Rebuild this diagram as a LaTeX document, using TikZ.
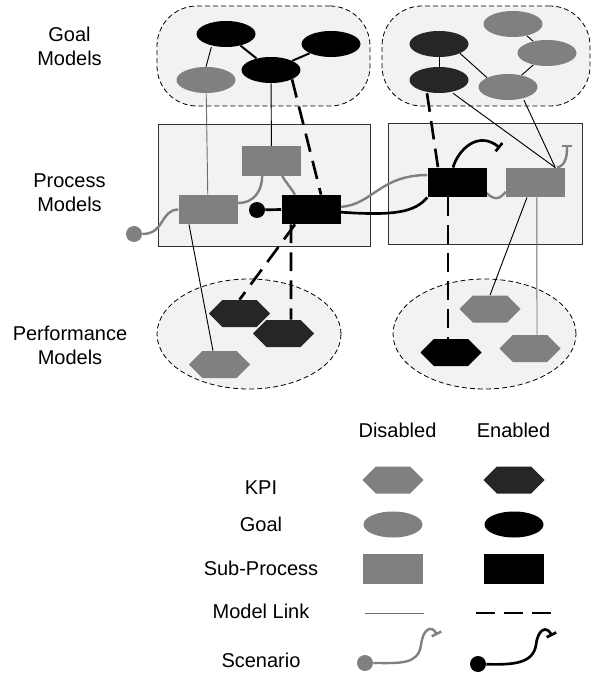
\documentclass[tikz,border=0pt]{standalone}
\usepackage{fontspec}
\setmainfont{Liberation Sans}
\usetikzlibrary{arrows.meta,shapes.geometric}
\pgfdeclarelayer{back}
\pgfdeclarelayer{mid}
\pgfsetlayers{back,mid,main}
\definecolor{grayn}{HTML}{808080}
\definecolor{darkn}{HTML}{262626}
\definecolor{bgc}{HTML}{F2F2F2}
\definecolor{lgray}{HTML}{6E6E6E}
\tikzset{
  lbl/.style={font=\fontsize{15}{18}\selectfont, inner sep=0pt, align=center},
  goalgrp/.style={rectangle, rounded corners=30pt, fill=bgc, draw=black, line width=0.6pt, dash pattern=on 3.75pt off 2.25pt},
  procgrp/.style={rectangle, fill=bgc, draw=black!80, line width=0.6pt},
  perfgrp/.style={ellipse, fill=bgc, draw=black, line width=0.6pt, dash pattern=on 3.75pt off 2.25pt},
  goalshape/.style={ellipse, minimum width=44.25pt, minimum height=19.5pt, inner sep=0pt, fill=#1},
  procshape/.style={rectangle, minimum width=44.25pt, minimum height=22pt, inner sep=0pt, fill=#1},
  kpishape/.style={rectangle, minimum width=45.75pt, minimum height=20.25pt, inner sep=0pt,
    path picture={\fill[#1] (path picture bounding box.west)
      -- ([xshift=10pt]path picture bounding box.north west)
      -- ([xshift=-10pt]path picture bounding box.north east)
      -- (path picture bounding box.east)
      -- ([xshift=-10pt]path picture bounding box.south east)
      -- ([xshift=10pt]path picture bounding box.south west) -- cycle;}},
  startdot/.style={circle, minimum size=12pt, inner sep=0pt, fill=#1},
  tlink/.style={draw=black, line width=0.7pt},
  glink/.style={draw=lgray, line width=0.7pt},
  elink/.style={draw=black, line width=1.5pt},
  dlink/.style={draw=black, line width=2pt, dash pattern=on 14pt off 7pt},
  scgray/.style={draw=grayn, line width=1.8pt},
  scblack/.style={draw=black, line width=2pt},
  endbar/.style={-{Bar[width=8pt]}},
}
\begin{document}
\begin{tikzpicture}[x=0.75pt,y=-0.75pt]
\useasboundingbox (0,0) rectangle (593,677);

% ---------- groups ----------
\begin{pgfonlayer}{back}
\node[goalgrp, minimum width=159.75pt, minimum height=75pt] (GL) at (263.5,56) {};
\node[goalgrp, minimum width=156pt, minimum height=75pt] (GR) at (486,56) {};
\node[procgrp, minimum width=159pt, minimum height=91.5pt] (PL) at (264,185) {};
\node[procgrp, minimum width=145.5pt, minimum height=90.75pt] (PR) at (485,183.5) {};
\node[perfgrp, minimum width=138pt, minimum height=82.5pt] (FL) at (249,334) {};
\node[perfgrp, minimum width=137.25pt, minimum height=82.5pt] (FR) at (484.5,334) {};
\end{pgfonlayer}

% ---------- goals ----------
\node[goalshape=black] (E1) at (226,34) {};
\node[goalshape=black] (E2) at (331,44) {};
\node[goalshape=black] (E3) at (271,70) {};
\node[goalshape=grayn] (E4) at (206,80) {};
\node[goalshape=darkn] (R1) at (439,44) {};
\node[goalshape=darkn] (R2) at (439,80) {};
\node[goalshape=grayn] (R3) at (513,24) {};
\node[goalshape=grayn] (R4) at (547,53) {};
\node[goalshape=grayn] (R5) at (508,87) {};

% ---------- processes ----------
\node[procshape=grayn] (P1) at (271.5,161) {};
\node[procshape=grayn] (P2) at (208,209.5) {};
\node[procshape=black] (P3) at (311,209.5) {};
\node[procshape=black] (Q1) at (457,182.5) {};
\node[procshape=grayn] (Q2) at (535.5,182.5) {};
\node[startdot=grayn] (gs) at (134,234) {};
\node[startdot=black] (bs) at (257,210) {};
\coordinate (gend) at (567,145);
\coordinate (bend) at (500,148);

% ---------- KPIs ----------
\node[kpishape=darkn] (H1) at (239.5,313.5) {};
\node[kpishape=darkn] (H2) at (283.5,333.5) {};
\node[kpishape=grayn] (H3) at (219.5,364.5) {};
\node[kpishape=grayn] (H4) at (490,309) {};
\node[kpishape=black] (H5) at (451,352.5) {};
\node[kpishape=grayn] (H6) at (530,348.5) {};

% ---------- links ----------
\begin{pgfonlayer}{mid}
\draw[tlink] ([xshift=-11pt]E1.south) -- (E4.north);
\draw[elink] (E1) -- (E3);
\draw[elink] (E3) -- (E2);
\draw[tlink] (R1) -- (R2);
\draw[tlink] (R1.south east) -- (R5.north west);
\draw[tlink] (R3) -- (R4);
\draw[tlink] (R4) -- (R5);

\draw[glink] (E4) -- (P2);
\draw[tlink] (E3) -- (P1);
\draw[dlink] (E3.south east) -- ([xshift=7.5pt]P3.north);
\draw[dlink] ([xshift=-9pt]R2.south) -- ([xshift=-14.25pt]Q1.north);
\draw[tlink] ([xshift=10.5pt]R2.south) -- ([xshift=-7.5pt]Q2.north east);
\draw[tlink] ([xshift=12pt]R5.south) -- ([xshift=-7.5pt]Q2.north east);

\draw[tlink] ([xshift=-14.25pt]P2.south) -- ([xshift=-4.9pt]H3.north);
\draw[dlink] ([xshift=-12pt]P3.south) -- (H1.north);
\draw[dlink] ([xshift=-15pt]P3.south) -- ([xshift=5.6pt]H2.north);
\draw[dlink] ([xshift=-6.75pt]Q1.south) -- ([xshift=-2.25pt]H5.north);
\draw[tlink] ([xshift=-6.4pt]Q2.south) -- (H4.north);
\draw[glink] ([xshift=1pt]Q2.south) -- ([xshift=5.25pt]H6.north);

% scenarios
\draw[scgray] (gs) .. controls (165,234) and (160,210) .. (P2.west);
\draw[scgray] ([yshift=4.9pt]P2.east) .. controls (255,203) and (262,190) .. ([xshift=-7pt]P1.south);
\draw[scgray] ([xshift=8pt]P1.south) .. controls (287,184) and (291,188) .. ([xshift=-12pt]P3.north);
\draw[scgray] ([yshift=2pt]P3.east) .. controls (372,205) and (380,175) .. ([yshift=5.6pt]Q1.west);
\draw[scgray] ([yshift=-8pt]Q1.east) .. controls (494,200) and (499,200) .. ([yshift=-7pt]Q2.west);
\draw[scgray,endbar] ([xshift=-6pt]Q2.north east) .. controls (566,165) and (567,156) .. (gend);
\draw[scblack] (bs) -- (P3.west);
\draw[scblack] ([yshift=-2pt]P3.east) .. controls (395,216) and (415,212) .. (Q1.south west);
\draw[scblack,endbar] ([xshift=-3pt]Q1.north) .. controls (458,150) and (478,130) .. (bend);
\end{pgfonlayer}

% ---------- row labels ----------
\node[lbl] (tG) at (69.5,46) {Goal\\Models};
\node[lbl] (tP) at (69.5,193) {Process\\Models};
\node[lbl] (tF) at (70,345) {Performance\\Models};

% ---------- legend ----------
\node[lbl, anchor=base] (tDis) at (397.5,437) {Disabled};
\node[lbl, anchor=base] (tEn) at (513.5,437) {Enabled};
\node[lbl, anchor=base] (tK) at (261,494) {KPI};
\node[lbl, anchor=base] (tGo) at (261,531) {Goal};
\node[lbl, anchor=base] (tS) at (261,575) {Sub-Process};
\node[lbl, anchor=base] (tM) at (261,618) {Model Link};
\node[lbl, anchor=base] (tSc) at (261,667) {Scenario};

\node[kpishape=grayn] (Lk1) at (393,480) {};
\node[kpishape=darkn] (Lk2) at (514,480) {};
\node[goalshape=grayn] (Lg1) at (393,524.5) {};
\node[goalshape=black] (Lg2) at (514,524.5) {};
\node[procshape=grayn, minimum width=45pt] (Lp1) at (393,569) {};
\node[procshape=black, minimum width=45pt] (Lp2) at (514,569) {};
\coordinate (ll1) at (365,613);
\coordinate (ll2) at (424,613);
\coordinate (ld1) at (476,613);
\coordinate (ld2) at (556,613);
\draw[glink] (ll1) -- (ll2);
\draw[dlink] (ld1) -- (ld2);
\node[startdot=grayn] (lgs) at (365,663) {};
\node[startdot=black] (lbs) at (478,664) {};
\coordinate (lge) at (437,635);
\coordinate (lbe) at (552,636);
\begin{pgfonlayer}{mid}
\draw[scgray,endbar] (lgs) .. controls (400,663) and (418,665) .. (421,645) .. controls (423,628) and (432,625) .. (lge);
\draw[scblack,endbar] (lbs) .. controls (515,665) and (533,663) .. (536,645) .. controls (538,628) and (547,626) .. (lbe);
\end{pgfonlayer}
\end{tikzpicture}
\end{document}
